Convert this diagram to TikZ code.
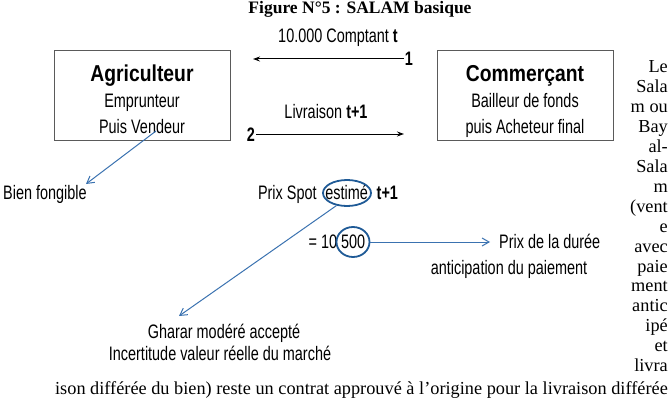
\documentclass[tikz,border=0pt]{standalone}
\usepackage{fontspec}
\usepackage{graphicx}
\setmainfont{Liberation Serif}
\newfontfamily\sansA{Liberation Sans}
\usetikzlibrary{arrows.meta,shapes.geometric}
\newcommand\nx[2][0.74]{\scalebox{#1}[1]{#2}}
\definecolor{arrblue}{HTML}{3A72B0}
\definecolor{ellblue}{HTML}{1F5A96}
\definecolor{boxgray}{HTML}{5A5A5A}
\tikzset{
  txt/.style={inner sep=0pt, font=\fontsize{19.5}{22}\selectfont\sansA},
  head/.style={inner sep=0pt, font=\fontsize{23}{26}\selectfont\sansA\bfseries},
  actor/.style={draw=boxgray, line width=0.8pt, minimum width=176pt, minimum height=90pt, inner sep=0pt},
  blackarr/.style={-{Stealth[length=7pt,width=5pt]}, line width=1pt},
  bluearr/.style={-{Straight Barb[length=7pt,width=8pt]}, arrblue, line width=1pt},
  ring/.style={draw=ellblue, line width=1.8pt, ellipse, inner sep=0pt},
  serif/.style={inner sep=0pt, font=\fontsize{18.3}{20}\selectfont},
}
\begin{document}
\begin{tikzpicture}[x=1pt,y=-1pt]
\useasboundingbox (0,0) rectangle (671,409);
% title
\node[inner sep=0pt, anchor=base, font=\fontsize{17.5}{19}\selectfont\bfseries] (title) at (360,14) {Figure N°5 : SALAM basique};
% boxes
\node[actor] (agr) at (142,95) {};
\node[actor] (com) at (525,95) {};
\node[head, anchor=base] (agrT) at (142,82) {\nx[0.84]{Agriculteur}};
\node[txt, anchor=base] (agr1) at (142,108) {\nx{Emprunteur}};
\node[txt, anchor=base] (agr2) at (142,133) {\nx{Puis Vendeur}};
\node[head, anchor=base] (comT) at (525,82) {\nx[0.84]{Commerçant}};
\node[txt, anchor=base] (com1) at (525,108) {\nx{Bailleur de fonds}};
\node[txt, anchor=base] (com2) at (525,133) {\nx{puis Acheteur final}};
% flows
\node[txt, anchor=base] (cash) at (338,43) {\nx{10.000 Comptant \textbf{t}}};
\node[txt, anchor=base] (n1) at (409,66) {\nx{\textbf{1}}};
\coordinate (a1s) at (404,59);
\coordinate (a1e) at (253,59);
\draw[blackarr] (a1s) -- (a1e);
\node[txt, anchor=base] (liv) at (326,118) {\nx{Livraison \textbf{t+1}}};
\node[txt, anchor=base] (n2) at (251,141) {\nx{\textbf{2}}};
\coordinate (a2s) at (256,134);
\coordinate (a2e) at (404,134);
\draw[blackarr] (a2s) -- (a2e);
% bien fongible
\node[txt, anchor=base west] (bf) at (3,199) {\nx{Bien fongible}};
\coordinate (bfs) at (156,131);
\coordinate (bft) at (86,184);
\draw[bluearr] (bfs) -- (bft);
% prix spot
\node[txt, anchor=base] (spot) at (328,199) {\nx{Prix Spot \hphantom{(}estimé\hphantom{)} \textbf{t+1}}};
\node[ring, minimum width=48pt, minimum height=26pt] (e1) at (347,193) {};
\node[txt, anchor=base] (eq) at (337,248) {\nx{= 10 500}};
\node[ring, minimum width=33pt, minimum height=30pt] (e2) at (353,242) {};
\node[txt, anchor=base west] (pd) at (499,248) {\nx{Prix de la durée}};
\node[txt, anchor=base] (ap) at (509,274) {\nx{anticipation du paiement}};
\coordinate (pdt) at (490,242);
\draw[bluearr] (e2.east) -- (pdt);
\node[txt, anchor=base] (gh) at (224,338) {\nx{Gharar modéré accepté}};
\node[txt, anchor=base] (gh2) at (220,360) {\nx{Incertitude valeur réelle du marché}};
\coordinate (ght) at (179,316);
\draw[bluearr] (e1.-130) -- (ght);
% right column text
\node[serif, anchor=base east] (s1) at (668,73) {Le};
\node[serif, anchor=base east] (s2) at (668,92.9) {Sala};
\node[serif, anchor=base east] (s3) at (668,112.8) {m ou};
\node[serif, anchor=base east] (s4) at (668,132.7) {Bay};
\node[serif, anchor=base east] (s5) at (668,152.6) {al-};
\node[serif, anchor=base east] (s6) at (668,172.5) {Sala};
\node[serif, anchor=base east] (s7) at (668,192.4) {m};
\node[serif, anchor=base east] (s8) at (668,212.3) {(vent};
\node[serif, anchor=base east] (s9) at (668,232.2) {e};
\node[serif, anchor=base east] (s10) at (668,252.1) {avec};
\node[serif, anchor=base east] (s11) at (668,272) {paie};
\node[serif, anchor=base east] (s12) at (668,291.9) {ment};
\node[serif, anchor=base east] (s13) at (668,311.8) {antic};
\node[serif, anchor=base east] (s14) at (668,331.7) {ipé};
\node[serif, anchor=base east] (s15) at (668,351.6) {et};
\node[serif, anchor=base east] (s16) at (668,371.5) {livra};
\node[serif, anchor=base east] (bottom) at (668,394) {ison différée du bien) reste un contrat approuvé à l’origine pour la livraison différée};
\end{tikzpicture}
\end{document}
